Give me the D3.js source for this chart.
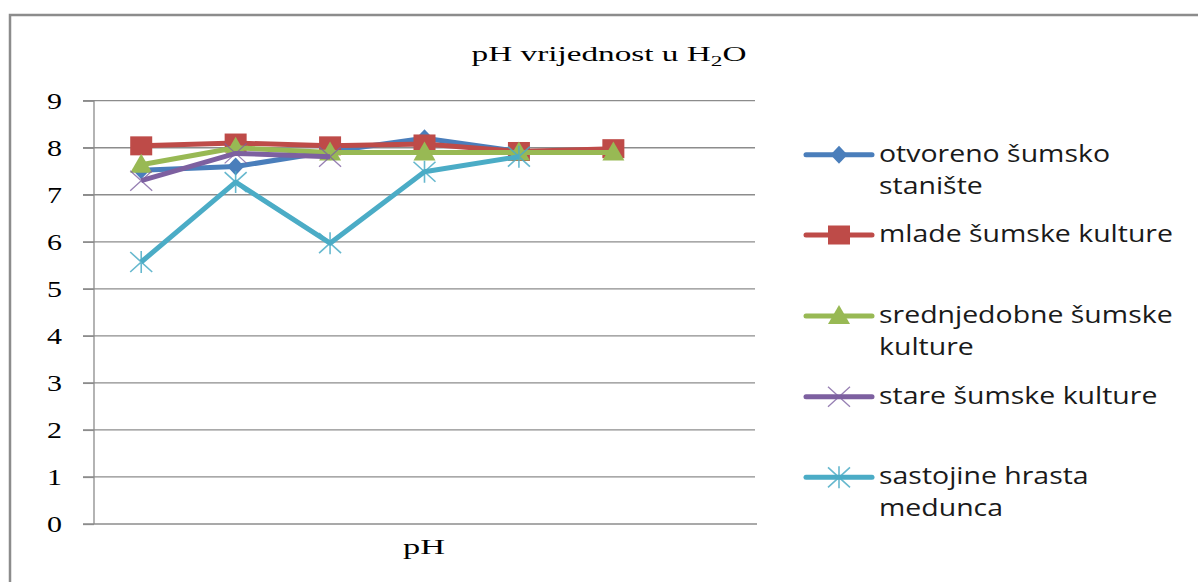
<!DOCTYPE html>
<html><head><meta charset="utf-8">
<script src="https://cdn.jsdelivr.net/npm/d3@7"></script>
<style>body{margin:0;background:#fff}svg{display:block}</style>
</head><body>
<svg id="c" width="1198" height="582"></svg>
<script>
const categories = ["1","2","3","4","5","6","7"];
const yTicks = [0,1,2,3,4,5,6,7,8,9];
const seriesNames = [["otvoreno šumsko","stanište"],["mlade šumske kulture"],["srednjedobne šumske","kulture"],["stare šumske kulture"],["sastojine hrasta","medunca"]];
const otvoreno = [7.52, 7.6, 7.92, 8.2, 7.92, null];
const mlade = [8.04, 8.1, 8.04, 8.08, 7.92, 7.98];
const srednjedobne = [7.64, 8.0, 7.9, 7.9, 7.9, 7.9];
const stare = [7.3, 7.88, 7.81, null, null, null];
const sastojine = [5.57, 7.27, 5.97, 7.49, 7.81, null];
const colors = ["#4a7ebb","#be4b48","#98b954","#7d60a0","#4bacc6"];
const markers = ["diamond","square","triangle","x","star"];
const allSeries = [otvoreno, mlade, srednjedobne, stare, sastojine];

const svg = d3.select("#c");
const SERIF = "Liberation Serif, DejaVu Serif, serif";
const SANS = "Open Sans, Liberation Sans, sans-serif";

// horizontally fitted text: anchored at ax with given anchor, scaled in x
function fitText(parent, str, ax, ay, anchor, family, size, targetW, scaleX){
  const g = parent.append("g");
  const t = g.append("text").attr("x",0).attr("y",ay).attr("text-anchor",anchor)
    .style("font-family",family).style("font-size",size+"px").attr("fill","#000");
  if(typeof str === "function") str(t); else t.text(str);
  let s = scaleX;
  if(targetW){ const w = t.node().getBBox().width; s = targetW / w; }
  g.attr("transform",`translate(${ax},0) scale(${s},1)`);
  return s;
}

// frame
svg.append("path").attr("d","M10,582 L10,15 L1198,15").attr("fill","none").attr("stroke","#8c8c8c").attr("stroke-width",2.5);

const L=94, R=755, T=100.7, B=524;
const x = d3.scaleBand().domain(categories).range([L,R]);
const y = d3.scaleLinear().domain([0,9]).range([B,T]);

// gridlines
svg.append("g").selectAll("line").data(yTicks.filter(d=>d>0)).join("line")
  .attr("x1",L-11).attr("x2",R).attr("y1",d=>y(d)).attr("y2",d=>y(d))
  .attr("stroke","#8c8c8c").attr("stroke-width",1.3);
// y axis via d3 axis (labels re-drawn with stretch)
const ya = svg.append("g").attr("transform",`translate(${L},0)`).call(d3.axisLeft(y).tickValues(yTicks).tickSize(11).tickFormat(""));
ya.select(".domain").attr("stroke","#8c8c8c").attr("stroke-width",1.3).attr("d",`M-11,${T}H0V${B}`);
ya.selectAll(".tick line").attr("stroke","#8c8c8c").attr("stroke-width",1.3);
const fmt = d3.format("d");
yTicks.forEach(v=>{
  fitText(svg, fmt(v), 62, y(v)+8, "end", SERIF, 24, null, 1.25);
});
svg.append("line").attr("x1",L-11).attr("x2",R+2).attr("y1",B).attr("y2",B).attr("stroke","#8c8c8c").attr("stroke-width",1.3);

// axis label
fitText(svg, "pH", 424, 554, "middle", SERIF, 21, 42, null);
// title
fitText(svg, t=>{
  t.append("tspan").text("pH vrijednost u H");
  t.append("tspan").style("font-size","14px").attr("dy",5).text("2");
  t.append("tspan").attr("dy",-5).text("O");
}, 609, 61, "middle", SERIF, 20, 275, null);

function drawMarker(g, type, color, cx, cy){
  if(type==="diamond"){
    g.append("path").attr("d",`M${cx},${cy-9}L${cx+8.5},${cy}L${cx},${cy+9}L${cx-8.5},${cy}Z`).attr("fill",color);
  } else if(type==="square"){
    g.append("rect").attr("x",cx-11).attr("y",cy-9.5).attr("width",22).attr("height",19).attr("fill",color);
  } else if(type==="triangle"){
    g.append("path").attr("d",`M${cx},${cy-11}L${cx+11},${cy+8}L${cx-11},${cy+8}Z`).attr("fill",color);
  } else if(type==="x"){
    g.append("path").attr("d",`M${cx-11},${cy-10}L${cx+11},${cy+10}M${cx-11},${cy+10}L${cx+11},${cy-10}`).attr("stroke",color).attr("stroke-width",1.3).attr("stroke-opacity",0.8);
  } else if(type==="star"){
    g.append("path").attr("d",`M${cx-11},${cy-10}L${cx+11},${cy+10}M${cx-11},${cy+10}L${cx+11},${cy-10}M${cx},${cy-11}L${cx},${cy+11}`).attr("stroke",color).attr("stroke-width",1.6).attr("stroke-opacity",0.85);
  }
}

const line = d3.line().defined(d=>d.v!=null).x(d=>x(d.c)+x.bandwidth()/2).y(d=>y(d.v));
allSeries.forEach((vals,i)=>{
  const g = svg.append("g");
  const data = vals.map((v,j)=>({c:categories[j],v}));
  g.append("path").datum(data).attr("d",line).attr("fill","none").attr("stroke",colors[i]).attr("stroke-width",5).attr("stroke-linejoin","round");
  data.filter(d=>d.v!=null).forEach(d=>drawMarker(g,markers[i],colors[i],x(d.c)+x.bandwidth()/2,y(d.v)));
});

// legend
const legY = [154.7,235,316,396.7,477.3];
// common horizontal stretch from the widest single-line entry
const probe = svg.append("text").style("font-family",SANS).style("font-size","23px").text("mlade šumske kulture");
const legScale = 294 / probe.node().getBBox().width;
probe.remove();
seriesNames.forEach((nm,i)=>{
  const g = svg.append("g");
  g.append("line").attr("x1",806).attr("x2",872).attr("y1",legY[i]).attr("y2",legY[i]).attr("stroke",colors[i]).attr("stroke-width",5).attr("stroke-linecap","round");
  drawMarker(g,markers[i],colors[i],839,legY[i]);
  nm.forEach((s,k)=>{
    const gg = g.append("g").attr("transform",`translate(879,0) scale(${legScale},1)`);
    gg.append("text").attr("x",0).attr("y",legY[i]+7+k*32).style("font-family",SANS).style("font-size","23px").attr("fill","#1a1a1a").text(s);
  });
});
</script>
</body></html>
